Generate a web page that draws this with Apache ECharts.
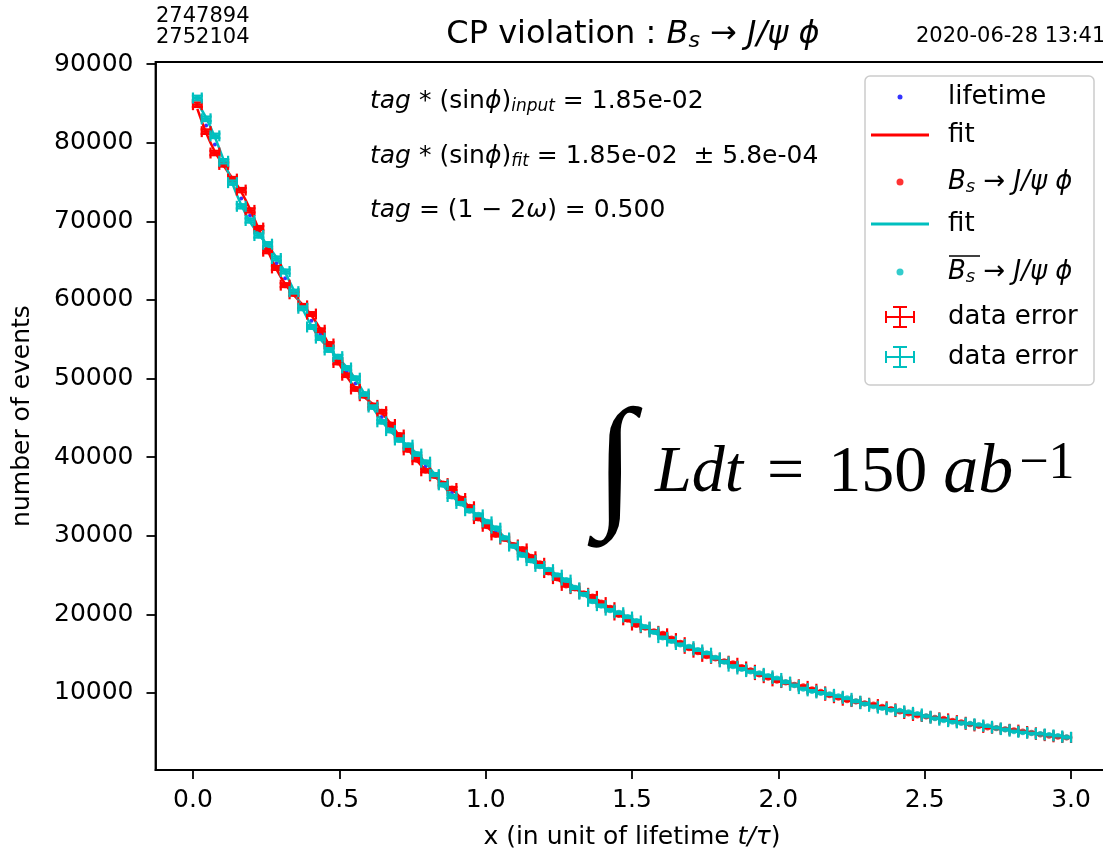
<!DOCTYPE html>
<html><head><meta charset="utf-8">
<script src="https://cdn.jsdelivr.net/npm/echarts@6/dist/echarts.min.js"></script>
<style>html,body{margin:0;padding:0;background:#fff}#c{width:1103px;height:855px}</style>
</head><body><div id="c"></div>
<script>
const binCenters = [
0.015,0.045,0.075,0.105,0.135,0.165,0.195,0.225,0.255,0.285,
0.315,0.345,0.375,0.405,0.435,0.465,0.495,0.525,0.555,0.585,
0.615,0.645,0.675,0.705,0.735,0.765,0.795,0.825,0.855,0.885,
0.915,0.945,0.975,1.005,1.035,1.065,1.095,1.125,1.155,1.185,
1.215,1.245,1.275,1.305,1.335,1.365,1.395,1.425,1.455,1.485,
1.515,1.545,1.575,1.605,1.635,1.665,1.695,1.725,1.755,1.785,
1.815,1.845,1.875,1.905,1.935,1.965,1.995,2.025,2.055,2.085,
2.115,2.145,2.175,2.205,2.235,2.265,2.295,2.325,2.355,2.385,
2.415,2.445,2.475,2.505,2.535,2.565,2.595,2.625,2.655,2.685,
2.715,2.745,2.775,2.805,2.835,2.865,2.895,2.925,2.955,2.985];

const lifetime = [
84720,82216,79786,77428,75140,72919,70764,68673,66643,64673,
62762,60907,59107,57360,55665,54020,52424,50875,49371,47912,
46496,45122,43788,42494,41238,40019,38836,37688,36574,35493,
34444,33426,32438,31479,30549,29646,28770,27920,27095,26294,
25517,24763,24031,23321,22632,21963,21314,20684,20073,19480,
18904,18345,17803,17277,16766,16271,15790,15323,14870,14431,
14004,13590,13188,12798,12420,12053,11697,11351,11016,10690,
10374,10067,9770,9481,9201,8929,8665,8409,8160,7919,
7685,7458,7238,7024,6816,6615,6419,6229,6045,5866,
5693,5525,5362,5203,5049,4900,4755,4615,4479,4347];

const bsFit = [
84315,81266,78864,77058,75499,73761,71581,69001,66324,63926,
62037,60616,59390,58023,56308,54278,52173,50287,48801,47683,
46718,45643,44294,42697,41041,39557,38387,37508,36749,35903,
34842,33586,32283,31115,30196,29504,28908,28242,27408,26420,
25395,24477,23753,23210,22740,22217,21560,20783,19977,19255,
18686,18257,17888,17477,16960,16349,15715,15146,14698,14362,
14071,13747,13340,12859,12361,11914,11562,11297,11069,10813,
10494,10115,9723,9371,9095,8886,8706,8506,8254,7957,
7648,7372,7154,6990,6849,6691,6493,6259,6016,5798,
5627,5499,5388,5263,5107,4923,4732,4562,4427,4326];

const bsData = [
84850,81420,78700,77250,75380,73980,71400,69150,66210,64080,
61890,60790,59250,58210,56150,54400,52050,50430,48680,47820,
46590,45790,44160,42820,40930,39680,38270,37620,36640,36020,
34740,33690,32190,31210,30110,29590,28830,28330,27330,26500,
25320,24550,23690,23280,22680,22290,21500,20850,19920,19310,
18640,18310,17840,17530,16920,16400,15680,15190,14660,14400,
14040,13780,13310,12890,12335,11945,11540,11325,11045,10840,
10475,10140,9705,9395,9078,8908,8690,8525,8240,7975,
7635,7390,7140,7005,6838,6705,6482,6272,6006,5810,
5618,5510,5380,5273,5099,4932,4725,4570,4421,4332];

const bsbarFit = [
85125,83166,80708,77798,74781,72077,69947,68345,66962,65420,
63487,61198,58824,56697,55022,53762,52675,51463,49941,48141,
46274,44601,43282,42291,41435,40481,39285,37868,36399,35083,
34046,33266,32593,31843,30902,29788,28632,27598,26782,26168,
25639,25049,24309,23432,22524,21709,21068,20585,20169,19705,
19122,18433,17718,17077,16572,16193,15865,15500,15042,14500,
13937,13433,13036,12737,12479,12192,11832,11405,10963,10567,
10254,10019,9817,9591,9307,8972,8624,8312,8066,7881,
7722,7544,7322,7058,6783,6539,6345,6199,6074,5934,
5759,5551,5336,5143,4991,4877,4778,4668,4531,4368];

const bsbarData = [
85700,83050,80880,77650,74930,71920,70110,68200,67100,65280,
63620,61060,58950,56570,55150,53640,52790,51350,50050,48030,
46380,44500,43380,42190,41530,40390,39370,37780,36480,35000,
34120,33190,32660,31770,30970,29720,28690,27540,26840,26110,
25690,24990,24360,23380,22570,21660,21110,20540,20210,19665,
19160,18395,17750,17045,16600,16165,15890,15475,15065,14478,
13958,13413,13055,12719,12496,12175,11848,11390,10977,10553,
10267,10007,9829,9580,9318,8962,8633,8303,8075,7873,
7730,7537,7329,7052,6789,6534,6351,6194,6079,5929,
5764,5547,5340,5139,4995,4873,4782,4664,4535,4365];

const xTicks = [0, 0.5, 1.0, 1.5, 2.0, 2.5, 3.0];
const yTicks = [10000, 20000, 30000, 40000, 50000, 60000, 70000, 80000, 90000];
const eventCounts = ['2747894', '2752104'];
const dateStamp = '2020-06-28 13:41';
const binHalfWidth = 0.015;

const RED = '#ff0000', CYAN = '#00bfbf', BLUE = '#0000ff', FONT = 'DejaVu Sans';

function pairs(ys) { return binCenters.map((x, i) => [x, ys[i]]); }

function errRender(color) {
  return function (params, api) {
    const x = api.value(0), y = api.value(1);
    const e = Math.sqrt(y);
    const pL = api.coord([x - binHalfWidth, y]), pR = api.coord([x + binHalfWidth, y]);
    const pT = api.coord([x, y + e]), pB = api.coord([x, y - e]);
    const cap = 5.5;
    const st = { stroke: color, lineWidth: 2.2 };
    const L = (x1, y1, x2, y2) => ({ type: 'line', shape: { x1, y1, x2, y2 }, style: st });
    return { type: 'group', children: [
      L(pL[0], pL[1], pR[0], pR[1]),
      L(pT[0], pT[1], pB[0], pB[1]),
      L(pL[0], pL[1] - cap, pL[0], pL[1] + cap),
      L(pR[0], pR[1] - cap, pR[0], pR[1] + cap),
      L(pT[0] - cap, pT[1], pT[0] + cap, pT[1]),
      L(pB[0] - cap, pB[1], pB[0] + cap, pB[1])
    ]};
  };
}

const errIcon = 'path://M0,10H30V12H0Z M14,0H16V22H14Z M0,5H2V17H0Z M28,5H30V17H28Z M8,0H22V2H8Z M8,20H22V22H8Z';

const richCommon = {
  n: { fontFamily: FONT, fontSize: 25, color: '#000', lineHeight: 28, verticalAlign: 'middle' },
  i: { fontFamily: FONT, fontSize: 25, fontStyle: 'italic', color: '#000', lineHeight: 28, verticalAlign: 'middle' },
  sub: { fontFamily: FONT, fontSize: 17, fontStyle: 'italic', color: '#000', lineHeight: 13, verticalAlign: 'bottom' }
};
const richLegend = {
  n: { fontFamily: FONT, fontSize: 26, color: '#000', lineHeight: 28, verticalAlign: 'middle' },
  i: { fontFamily: FONT, fontSize: 26, fontStyle: 'italic', color: '#000', lineHeight: 28, verticalAlign: 'middle' },
  sub: { fontFamily: FONT, fontSize: 18, fontStyle: 'italic', color: '#000', lineHeight: 13, verticalAlign: 'bottom' }
};

// iconW: drawn width of the legend icon (legend is laid out by its bounding box)
const legendItems = [
  { name: 'lifetime', icon: 'circle', h: 5, iconW: 5, cy: 97, text: '{n|lifetime}' },
  { name: 'fitR', icon: 'rect', h: 3, iconW: 58, cy: 135, text: '{n|fit}' },
  { name: 'bs', icon: 'circle', h: 7, iconW: 7, cy: 182, text: '{i|B}{sub|s}{n| → }{i|J/ψ ϕ}' },
  { name: 'fitC', icon: 'rect', h: 3, iconW: 58, cy: 224, text: '{n|fit}' },
  { name: 'bsbar', icon: 'circle', h: 7, iconW: 7, cy: 272, text: '{i|B}{sub|s}{n| → }{i|J/ψ ϕ}' },
  { name: 'errR', icon: errIcon, h: 22, iconW: 30, cy: 317, text: '{n|data error}' },
  { name: 'errC', icon: errIcon, h: 22, iconW: 30, cy: 357, text: '{n|data error}' }
];
const legendText = {};
legendItems.forEach(l => legendText[l.name] = l.text);

const legends = legendItems.map(l => ({
  data: [l.name],
  left: 871 + (58 - l.iconW) / 2,
  top: l.cy - 14,
  padding: 0,
  itemWidth: 58,
  itemHeight: l.h,
  icon: l.icon,
  z: 10,
  selectedMode: false,
  formatter: nm => legendText[nm],
  textStyle: { padding: [0, 0, 0, 14], rich: richLegend, lineHeight: 28 }
}));

const chart = echarts.init(document.getElementById('c'), null, { renderer: 'canvas' });
chart.setOption({
  animation: false,
  backgroundColor: '#fff',
  textStyle: { fontFamily: FONT },
  grid: { left: 155.5, top: 62, width: 953, height: 708, show: true, borderColor: '#000', borderWidth: 1.8, backgroundColor: 'transparent', outerBoundsMode: 'none', containLabel: false },
  xAxis: {
    type: 'value', min: -0.128, max: 3.128,
    axisLine: { show: true, onZero: false, lineStyle: { color: '#000', width: 1.8 } },
    axisTick: { show: true, length: 9, lineStyle: { color: '#000', width: 1.8 }, customValues: xTicks },
    axisLabel: { customValues: xTicks, formatter: v => v.toFixed(1), fontSize: 25, color: '#000', margin: 18, fontFamily: FONT },
    splitLine: { show: false },
    name: 'x (in unit of lifetime {i|t/τ})', nameLocation: 'middle', nameGap: 55,
    nameTextStyle: { fontSize: 25, color: '#000', fontFamily: FONT, rich: { i: { fontSize: 25, fontStyle: 'italic', color: '#000', fontFamily: FONT } } }
  },
  yAxis: {
    type: 'value', min: 200, max: 90280,
    axisLine: { show: true, onZero: false, lineStyle: { color: '#000', width: 1.8 } },
    axisTick: { show: true, length: 9, lineStyle: { color: '#000', width: 1.8 }, customValues: yTicks },
    axisLabel: { customValues: yTicks, formatter: v => String(Math.round(v)), fontSize: 25, color: '#000', margin: 22, fontFamily: FONT },
    splitLine: { show: false },
    name: 'number of events', nameLocation: 'middle', nameGap: 121,
    nameTextStyle: { fontSize: 25, color: '#000', fontFamily: FONT }
  },
  legend: legends,
  series: [
    { name: 'lifetime', type: 'scatter', data: pairs(lifetime), symbolSize: 4, itemStyle: { color: BLUE }, z: 2 },
    { name: 'fitR', type: 'line', data: pairs(bsFit), showSymbol: false, symbol: 'none', smooth: 0.3, lineStyle: { color: RED, width: 2.5 }, itemStyle: { color: RED }, z: 3 },
    { name: 'bs', type: 'scatter', data: pairs(bsData), symbolSize: 6, itemStyle: { color: RED }, z: 4 },
    { name: 'fitC', type: 'line', data: pairs(bsbarFit), showSymbol: false, symbol: 'none', smooth: 0.3, lineStyle: { color: CYAN, width: 2.5 }, itemStyle: { color: CYAN }, z: 5 },
    { name: 'bsbar', type: 'scatter', data: pairs(bsbarData), symbolSize: 6, itemStyle: { color: CYAN }, z: 6 },
    { name: 'errR', type: 'custom', data: pairs(bsData), encode: { x: 0, y: 1 }, renderItem: errRender(RED), itemStyle: { color: RED }, z: 7 },
    { name: 'errC', type: 'custom', data: pairs(bsbarData), encode: { x: 0, y: 1 }, renderItem: errRender(CYAN), itemStyle: { color: CYAN }, z: 8 }
  ],
  graphic: [
    { type: 'rect', z: 9, shape: { x: 865, y: 76, width: 229, height: 309, r: 5 }, style: { fill: 'rgba(255,255,255,0.85)', stroke: '#cccccc', lineWidth: 1.5 } },
    { type: 'line', z: 11, shape: { x1: 949, y1: 256, x2: 980, y2: 256 }, style: { stroke: '#000', lineWidth: 1.5 } },
    { type: 'text', x: 156, y: 17, style: { text: eventCounts[0], font: '21px "DejaVu Sans"', fill: '#000', verticalAlign: 'middle' } },
    { type: 'text', x: 156, y: 38, style: { text: eventCounts[1], font: '21px "DejaVu Sans"', fill: '#000', verticalAlign: 'middle' } },
    { type: 'text', x: 916, y: 37, style: { text: dateStamp, font: '21px "DejaVu Sans"', fill: '#000', verticalAlign: 'middle' } },
    { type: 'text', x: 633, y: 35, style: {
      text: '{n|CP violation : }{i|B}{sub|s}{n| → }{i|J/ψ ϕ}', align: 'center', verticalAlign: 'middle',
      rich: {
        n: { fontFamily: FONT, fontSize: 32, color: '#000', lineHeight: 35, verticalAlign: 'middle' },
        i: { fontFamily: FONT, fontSize: 32, fontStyle: 'italic', color: '#000', lineHeight: 35, verticalAlign: 'middle' },
        sub: { fontFamily: FONT, fontSize: 22, fontStyle: 'italic', color: '#000', lineHeight: 15, verticalAlign: 'bottom' }
      } } },
    { type: 'text', x: 370, y: 101, style: { text: '{i|tag}{n| * (sin}{i|ϕ}{n|)}{sub|input}{n| = 1.85e-02}', verticalAlign: 'middle', rich: richCommon } },
    { type: 'text', x: 370, y: 156, style: { text: '{i|tag}{n| * (sin}{i|ϕ}{n|)}{sub|fit}{n| = 1.85e-02  ± 5.8e-04}', verticalAlign: 'middle', rich: richCommon } },
    { type: 'text', x: 370, y: 210, style: { text: '{i|tag}{n| = (1 − 2}{i|ω}{n|) = 0.500}', verticalAlign: 'middle', rich: richCommon } },
    { type: 'text', x: 615, y: 471, style: { text: '∫', font: '145px "Liberation Serif"', fill: '#000', align: 'center', verticalAlign: 'middle' } },
    { type: 'text', x: 655, y: 474, style: {
      text: '{i|Ldt}{e|=}{n|150}{a|ab}{sup|−1}', verticalAlign: 'middle',
      rich: {
        n: { fontFamily: 'Liberation Serif', fontSize: 66, color: '#000', lineHeight: 72, verticalAlign: 'middle' },
        e: { fontFamily: 'Liberation Serif', fontSize: 66, color: '#000', lineHeight: 72, verticalAlign: 'middle', padding: [0, 24, 0, 24] },
        i: { fontFamily: 'Liberation Serif', fontSize: 66, fontStyle: 'italic', color: '#000', lineHeight: 72, verticalAlign: 'middle' },
        a: { fontFamily: 'Liberation Serif', fontSize: 70, fontStyle: 'italic', color: '#000', lineHeight: 72, verticalAlign: 'middle', padding: [0, 6, 0, 16] },
        sup: { fontFamily: 'Liberation Serif', fontSize: 52, color: '#000', lineHeight: 50, verticalAlign: 'top' }
      } } }
  ]
});
</script>
</body></html>
